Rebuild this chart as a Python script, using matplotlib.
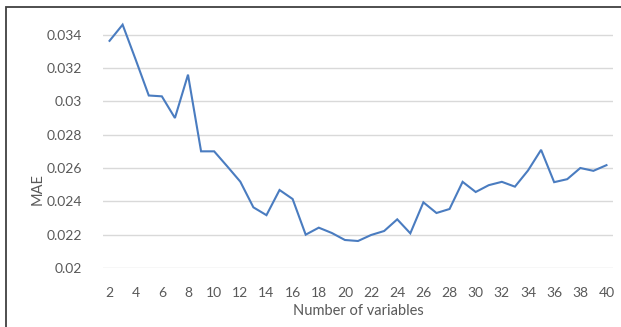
import numpy as np
import matplotlib.pyplot as plt
from matplotlib.patches import Rectangle
from matplotlib.ticker import FuncFormatter

# number of variables vs. MAE
n_vars = list(range(2, 41))
mae = [0.03363, 0.0346, 0.0325, 0.03035, 0.0303, 0.0290, 0.0316, 0.0270, 0.0270, 0.0261,
       0.02518, 0.02364, 0.02317, 0.02468, 0.02414, 0.0220, 0.02242, 0.0221, 0.02168, 0.02162,
       0.02198, 0.02222, 0.02292, 0.02208, 0.02394, 0.0233, 0.02354, 0.02517, 0.02456, 0.02497,
       0.02517, 0.02488, 0.02585, 0.02709, 0.02515, 0.02533, 0.0260, 0.02583, 0.02617]
xtick_vals = list(range(2, 41, 2))
ytick_vals = [0.02, 0.022, 0.024, 0.026, 0.028, 0.03, 0.032, 0.034]

W, H = 621, 327
plt.rcParams['font.family'] = ['Lato', 'DejaVu Sans']
text_col = '#595959'

fig = plt.figure(figsize=(W / 100, H / 100), dpi=100)
ax = fig.add_axes([103 / W, 1 - 268 / H, (613 - 103) / W, (268 - 18) / H])

ax.plot(n_vars, mae, color='#4A7CC0', lw=1.5, solid_joinstyle='miter')

ax.set_xlim(1.5, 40.5)
ax.set_ylim(0.02, 0.035)
ax.set_xticks(xtick_vals)
ax.set_yticks(ytick_vals)
ax.yaxis.set_major_formatter(FuncFormatter(lambda v, p: '%g' % round(v, 4)))
ax.grid(axis='y', color='#d9d9d9', lw=1)
ax.set_axisbelow(True)
for s in ax.spines.values():
    s.set_visible(False)
ax.tick_params(length=0, labelsize=10, labelcolor=text_col)
ax.tick_params(axis='y', pad=15)
ax.tick_params(axis='x', pad=14)

fig.text(358 / W, 1 - 311 / H, 'Number of variables', ha='center', va='center',
         fontsize=10.5, color=text_col)
fig.text(38 / W, 1 - 189 / H, 'MAE', ha='center', va='center', rotation=90,
         fontsize=10.5, color=text_col)

# outer border (only top and left visible in the original)
fig.patches.append(Rectangle((6 / W, -0.1), 1.2, 1 - 7 / H + 0.1,
                             transform=fig.transFigure, fill=False,
                             edgecolor='#404040', lw=1.3))

fig.savefig('out.png', dpi=100)
